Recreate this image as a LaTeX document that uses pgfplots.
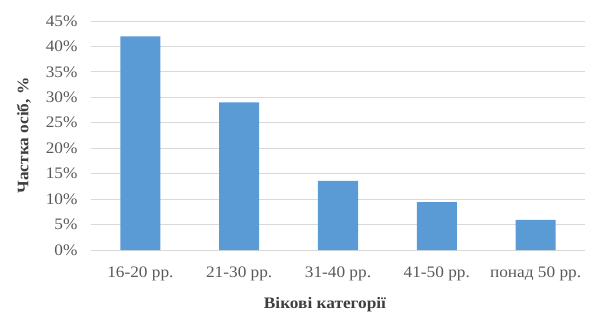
\documentclass[border=0pt]{standalone}
\usepackage{fontspec}
\setmainfont{Liberation Serif}[FakeStretch=1.08]
\usepackage{pgfplots}
\pgfplotsset{compat=1.18}
\definecolor{barblue}{HTML}{5B9BD5}
\definecolor{gridgray}{HTML}{D9D9D9}
\definecolor{txtgray}{HTML}{595959}
\begin{document}
\begin{tikzpicture}
\begin{axis}[
  at={(0,0)}, anchor=south west,
  scale only axis,
  width=494pt, height=229pt,
  xmin=-0.5, xmax=4.5,
  ymin=0, ymax=45,
  axis line style={draw=none},
  xtick={0,1,2,3,4},
  xticklabels={16-20 рр., 21-30 рр., 31-40 рр., 41-50 рр., понад 50 рр.},
  ytick={0,5,...,45},
  yticklabels={0\%,5\%,10\%,15\%,20\%,25\%,30\%,35\%,40\%,45\%},
  major tick length=0pt,
  tick style={draw=none},
  ymajorgrids,
  grid style={gridgray, line width=1pt},
  ticklabel style={font=\fontsize{16}{19}\selectfont, text=txtgray},
  xticklabel style={yshift=-13pt},
  yticklabel style={xshift=-10pt},
  xlabel={\textbf{Вікові категорії}},
  ylabel={\textbf{Частка осіб, \%}},
  label style={font=\fontsize{16}{19}\selectfont, text=txtgray!70!black},
  xlabel style={yshift=-10pt, xshift=-13pt},
  ylabel style={yshift=8pt},
  ybar,
  bar width=0.405,
  bar shift=0pt,
  clip=false,
]
\addplot[fill=barblue, draw=none] coordinates {(0,42) (1,29) (2,13.6) (3,9.4) (4,5.9)};
\end{axis}
\path (-91pt,-67pt) rectangle (501pt,250pt);
\end{tikzpicture}
\end{document}
